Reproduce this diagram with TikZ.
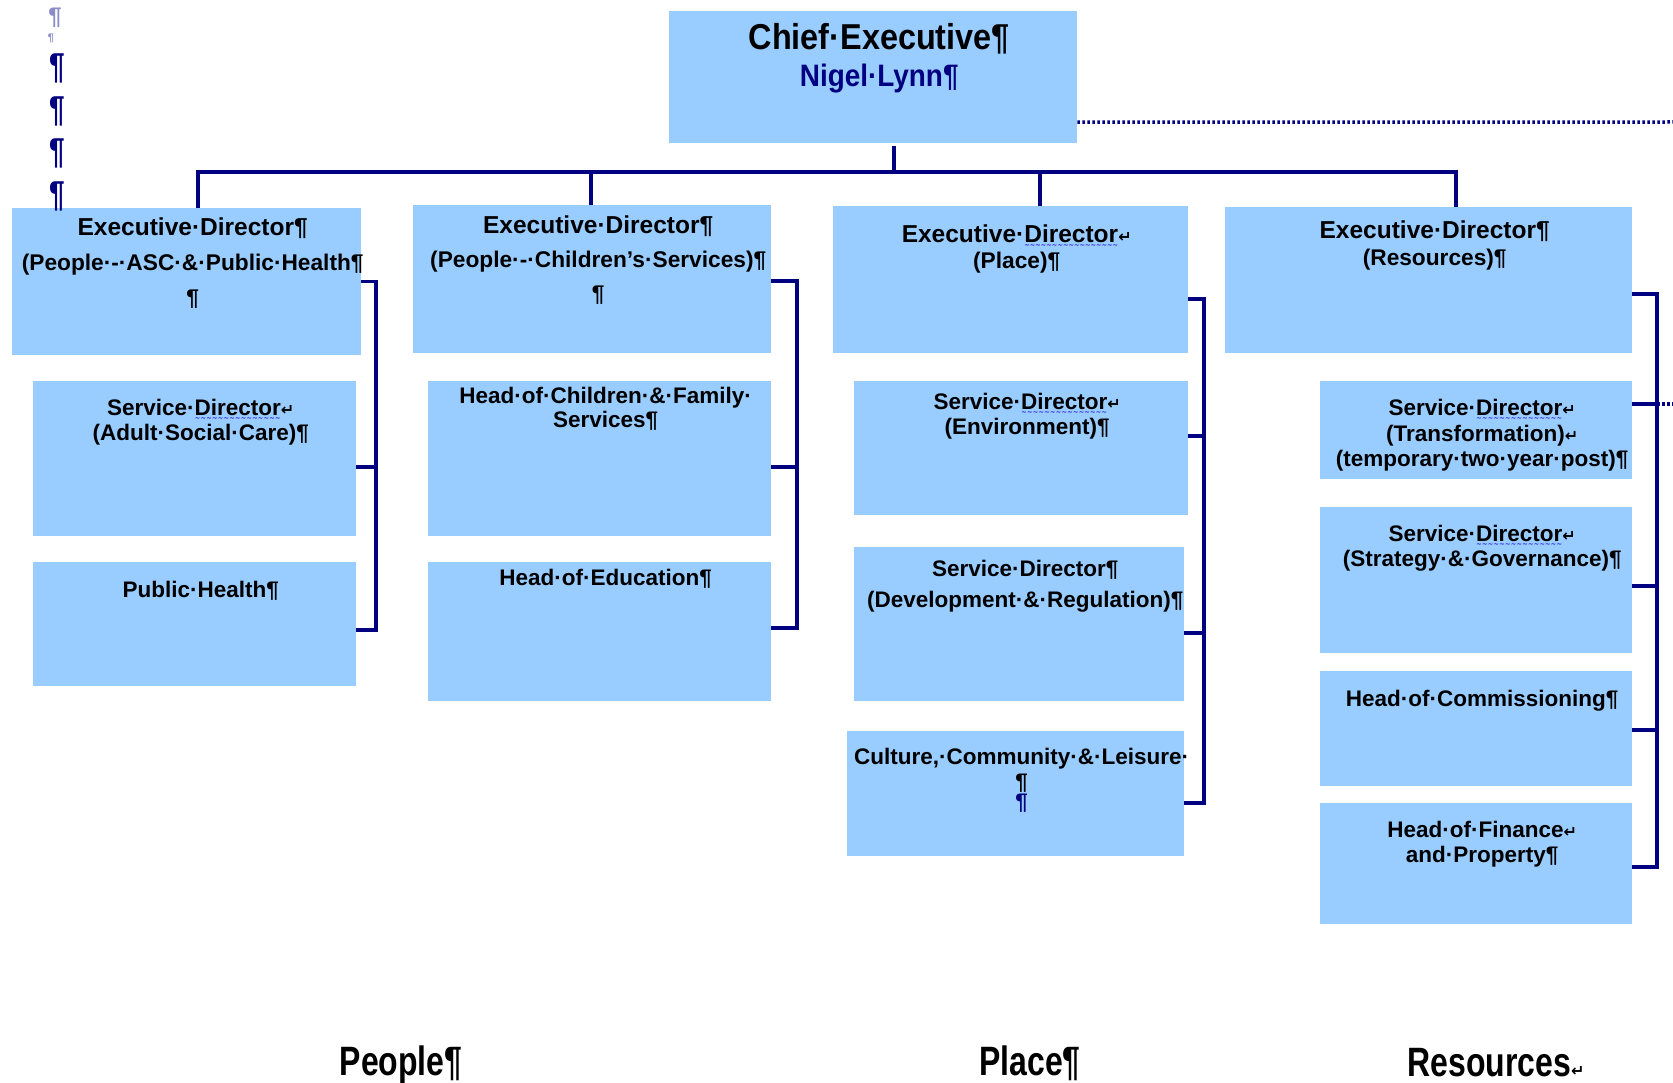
\documentclass[tikz,border=0pt]{standalone}
\usepackage{fontspec}
\setmainfont{Liberation Sans}
\newfontfamily\narrowfont[FakeStretch=0.78]{Liberation Sans}
\newfontfamily\chieffont[FakeStretch=0.9]{Liberation Sans}
\newfontfamily\symfont{DejaVu Sans}
\usetikzlibrary{positioning}
\definecolor{boxblue}{RGB}{153,204,255}
\definecolor{linkblue}{RGB}{0,0,128}
\definecolor{markgrey}{RGB}{140,140,200}
\definecolor{squigblue}{RGB}{70,70,230}
\newcommand\squig[1]{\setbox0=\hbox{#1}\rlap{\textcolor{squigblue}{\lower7pt\hbox to \wd0{\xleaders\hbox{\scalebox{0.5}[1]{\symfont\mdseries\fontsize{13}{13}\selectfont∼}}\hfill}}}\box0}
\newcommand\ret{{\symfont\fontsize{16}{16}\selectfont ↵}}

\begin{document}
\begin{tikzpicture}[x=1pt,y=-1pt,
	unit/.style={fill=boxblue,inner sep=0pt,anchor=north west},
	txt/.style={align=center,inner sep=0pt,anchor=north,xshift=6pt},
	edtxt/.style={txt,font=\bfseries\fontsize{22.7}{#1}\selectfont},
	subtxt/.style={txt,font=\bfseries\fontsize{22.5}{#1}\selectfont},
	link/.style={draw=linkblue,line width=3.5pt},
	dotlink/.style={draw=linkblue,line width=3.5pt,dash pattern=on 2.5pt off 2.5pt}]
\useasboundingbox (0,0) rectangle (1673,1083);

\node[unit,minimum width=408pt,minimum height=132pt] (chief) at (669,11) {};
\node[unit,minimum width=349pt,minimum height=147pt] (ed1) at (12,208) {};
\node[unit,minimum width=358pt,minimum height=148pt] (ed2) at (413,205) {};
\node[unit,minimum width=355pt,minimum height=147pt] (ed3) at (833,206) {};
\node[unit,minimum width=407pt,minimum height=146pt] (ed4) at (1225,207) {};
\node[unit,minimum width=323pt,minimum height=155pt] (sdasc) at (33,381) {};
\node[unit,minimum width=323pt,minimum height=124pt] (ph) at (33,562) {};
\node[unit,minimum width=343pt,minimum height=155pt] (hcf) at (428,381) {};
\node[unit,minimum width=343pt,minimum height=139pt] (hed) at (428,562) {};
\node[unit,minimum width=334pt,minimum height=134pt] (sdenv) at (854,381) {};
\node[unit,minimum width=330pt,minimum height=154pt] (sddr) at (854,547) {};
\node[unit,minimum width=337pt,minimum height=125pt] (ccl) at (847,731) {};
\node[unit,minimum width=312pt,minimum height=98pt] (sdtr) at (1320,381) {};
\node[unit,minimum width=312pt,minimum height=146pt] (sdsg) at (1320,507) {};
\node[unit,minimum width=312pt,minimum height=115pt] (hcom) at (1320,671) {};
\node[unit,minimum width=312pt,minimum height=121pt] (hfin) at (1320,803) {};

\node[txt,font=\chieffont\bfseries\fontsize{36}{37}\selectfont,below=12pt of chief.north] (chieft)
	{Chief·Executive¶\\\textcolor{linkblue}{\fontsize{31}{37}\selectfont Nigel·Lynn¶}};
\node[edtxt=35,below=10pt of ed1.north] (ed1t) {{\fontsize{24.5}{35}\selectfont Executive·Director¶}\\(People·-·ASC·\&·Public·Health¶\\¶};
\node[edtxt=34,below=11pt of ed2.north] (ed2t) {{\fontsize{24.5}{34}\selectfont Executive·Director¶}\\(People·-·Children’s·Services)¶\\¶};
\node[edtxt=26,below=19pt of ed3.north] (ed3t) {{\fontsize{24.5}{26}\selectfont Executive·\squig{Director}\ret}\\(Place)¶};
\node[edtxt=27,below=14pt of ed4.north] (ed4t) {{\fontsize{24.5}{27}\selectfont Executive·Director¶}\\(Resources)¶};
\node[subtxt=25,below=18pt of sdasc.north] (sdasct) {Service·\squig{Director}\ret\\(Adult·Social·Care)¶};
\node[subtxt=25,below=19pt of ph.north] (pht) {Public·Health¶};
\node[subtxt=24,below=6pt of hcf.north] (hcft) {Head·of·Children·\&·Family·\\Services¶};
\node[subtxt=24,below=7pt of hed.north] (hedt) {Head·of·Education¶};
\node[subtxt=25,below=12pt of sdenv.north] (sdenvt) {Service·\squig{Director}\ret\\(Environment)¶};
\node[subtxt=31,below=13pt of sddr.north] (sddrt) {Service·Director¶\\(Development·\&·Regulation)¶};
\node[subtxt=25,below=17pt of ccl.north] (cclt) {Culture,·Community·\&·Leisure·\\¶\\[-5pt]\textcolor{linkblue}{¶}};
\node[subtxt=25.5,below=18pt of sdtr.north] (sdtrt) {Service·\squig{Director}\ret\\(Transformation)\ret\\(temporary·two·year·post)¶};
\node[subtxt=25,below=18pt of sdsg.north] (sdsgt) {Service·\squig{Director}\ret\\(Strategy·\&·Governance)¶};
\node[subtxt=25,below=19pt of hcom.north] (hcomt) {Head·of·Commissioning¶};
\node[subtxt=25,below=18pt of hfin.north] (hfint) {Head·of·Finance\ret\\and·Property¶};

\coordinate (d0) at (894,172);
\coordinate (d1) at (198,172);
\coordinate (d2) at (591,172);
\coordinate (d3) at (1040,172);
\coordinate (d4) at (1456,172);
\draw[link,shorten <=3pt] (d0 |- chief.south) -- (d0);
\draw[link] (d1 |- ed1.north) -- (d1) -- (d4) -- (d4 |- ed4.north);
\draw[link] (d2) -- (d2 |- ed2.north);
\draw[link] (d3) -- (d3 |- ed3.north);

\coordinate (dotend) at (1673,122);
\draw[dotlink] ([yshift=-45pt]chief.east) -- (dotend);

\coordinate (b1) at (376,450);
\draw[link] (ed1.east) -| (b1) |- ([yshift=-6pt]ph.east);
\draw[link] ([yshift=-8.5pt]sdasc.east) -- ([yshift=-8.5pt]sdasc.east -| b1);

\coordinate (b2) at (797,450);
\draw[link] ([yshift=-2pt]ed2.east) -| (b2) |- ([yshift=3.5pt]hed.east);
\draw[link] ([yshift=-8.5pt]hcf.east) -- ([yshift=-8.5pt]hcf.east -| b2);

\coordinate (b3) at (1204,500);
\draw[link] ([yshift=-19.5pt]ed3.east) -| (b3) |- ([yshift=-9.5pt]ccl.east);
\draw[link] ([yshift=12pt]sdenv.east) -- ([yshift=12pt]sdenv.east -| b3);
\draw[link] ([yshift=-9pt]sddr.east) -- ([yshift=-9pt]sddr.east -| b3);

\coordinate (b4) at (1657,550);
\draw[link] ([yshift=-14pt]ed4.east) -| (b4) |- ([yshift=-3.5pt]hfin.east);
\draw[link] ([yshift=26pt]sdtr.east) -- ([yshift=26pt]sdtr.east -| b4);
\draw[link] ([yshift=-6pt]sdsg.east) -- ([yshift=-6pt]sdsg.east -| b4);
\draw[link] ([yshift=-1.5pt]hcom.east) -- ([yshift=-1.5pt]hcom.east -| b4);
\coordinate (trend) at (1673,404);
\draw[dotlink] (b4 |- trend) -- (trend);

\node[font=\bfseries\fontsize{24}{24}\selectfont,text=markgrey,inner sep=0pt] (pilg) at (55,18) {¶};
\node[font=\bfseries\fontsize{11}{11}\selectfont,text=markgrey,inner sep=0pt] (pils) at (51,38) {¶};
\foreach \y [count=\n] in {68,111,153,196}
	\node[font=\narrowfont\bfseries\fontsize{36}{36}\selectfont,text=linkblue,inner sep=0pt] (pil\n) at (57,\y) {¶};

\node[font=\narrowfont\bfseries\fontsize{41}{41}\selectfont,anchor=base,inner sep=0pt] (people) at (401,1075) {People¶};
\node[font=\narrowfont\bfseries\fontsize{41}{41}\selectfont,anchor=base,inner sep=0pt] (place) at (1030,1075) {Place¶};
\node[font=\narrowfont\bfseries\fontsize{41}{41}\selectfont,anchor=base,inner sep=0pt] (resources) at (1496,1076) {Resources{\symfont\fontsize{16}{16}\selectfont ↵}};

\end{tikzpicture}
\end{document}
